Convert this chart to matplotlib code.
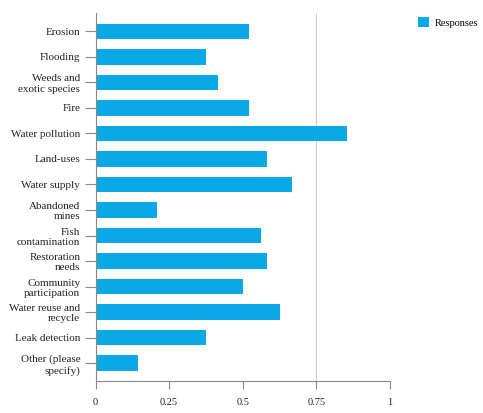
import numpy as np
import matplotlib
matplotlib.use("Agg")
import matplotlib.pyplot as plt

plt.rcParams['font.family'] = ['Liberation Serif', 'DejaVu Serif']

categories = ["Erosion", "Flooding", "Weeds and\nexotic species", "Fire",
              "Water pollution", "Land-uses", "Water supply", "Abandoned\nmines",
              "Fish\ncontamination", "Restoration\nneeds", "Community\nparticipation",
              "Water reuse and\nrecycle", "Leak detection", "Other (please\nspecify)"]
responses = [0.521, 0.375, 0.417, 0.521, 0.854, 0.583, 0.667, 0.208,
             0.5625, 0.583, 0.5, 0.625, 0.375, 0.146]
xticks = [0, 0.25, 0.5, 0.75, 1]
xticklabels = ["0", "0.25", "0.5", "0.75", "1"]

fig = plt.figure(figsize=(4.83, 4.13), dpi=100)
ax = fig.add_axes([95.5/483, 1-381/413, (390-95.5)/483, (381-13)/413])

y = np.arange(len(categories))
ax.barh(y, responses, height=0.6, color='#0ba8e6', label="Responses", zorder=2)
ax.set_yticks(y)
ax.set_yticklabels(categories, fontsize=8, linespacing=1.2, multialignment='right')
ax.set_ylim(len(categories) - 0.3, -0.72)
ax.set_xlim(0, 1)
ax.set_xticks(xticks)
ax.set_xticklabels(xticklabels, fontsize=7.5)

ax.xaxis.grid(True, color='#cccccc', linewidth=0.8, zorder=0)
for gl, t in zip(ax.get_xgridlines(), xticks):
    if t < 0.75:
        gl.set_visible(False)

for s in ['top', 'right']:
    ax.spines[s].set_visible(False)
for s in ['left', 'bottom']:
    ax.spines[s].set_color('#888888')
    ax.spines[s].set_linewidth(0.8)
ax.tick_params(axis='both', colors='#888888', labelcolor='#222222', width=0.8)
ax.tick_params(axis='y', length=8, pad=3)
ax.tick_params(axis='x', length=6, pad=6)

fig.legend(loc='upper left', bbox_to_anchor=(409/483, 1-8/413), frameon=False,
           fontsize=7.5, handlelength=1.0, handleheight=1.0, handletextpad=0.6)

fig.savefig("out.png", dpi=100)
